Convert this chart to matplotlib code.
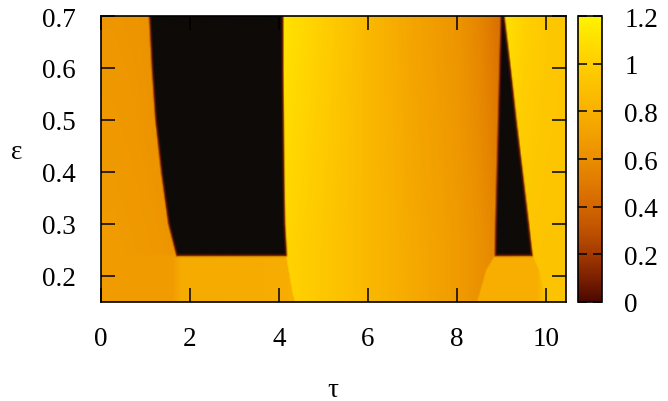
import numpy as np
import matplotlib.pyplot as plt
from matplotlib.colors import LinearSegmentedColormap, Normalize, to_rgb
from matplotlib.cm import ScalarMappable

plt.rcParams['font.family'] = ['Liberation Serif', 'DejaVu Serif']
plt.rcParams['font.size'] = 19.5

# palette of the colour box, value -> colour
cb_levels = [0.0, 0.1, 0.2, 0.3, 0.4, 0.5, 0.6, 0.7, 0.8, 0.9, 1.0, 1.1, 1.2]
cb_colors = ['#4a0800', '#7c2000', '#a23a00', '#bf5200', '#d26600', '#e07a00',
             '#ea8e00', '#f29f00', '#f8b000', '#fcc000', '#ffce00', '#ffe000', '#fff200']
cb_ticks = [0.0, 0.2, 0.4, 0.6, 0.8, 1.0, 1.2]
cb_ticklabels = ['0', '0.2', '0.4', '0.6', '0.8', '1', '1.2']
hole_color = '#0d0a08'
rim_color = '#641400'

x_ticks = [0, 2, 4, 6, 8, 10]
y_ticks = [0.2, 0.3, 0.4, 0.5, 0.6, 0.7]

# scan grid
tau_step, eps_step = 0.025, 0.0025
tau_lim = (0.0, 10.45)
eps_lim = (0.15, 0.70)

# black (unbounded) regions: tau edges at the given eps, floor at eps_floor
hole_eps = [0.24, 0.30, 0.40, 0.50, 0.60, 0.70]
hole1_left = [1.71, 1.53, 1.37, 1.24, 1.16, 1.10]
hole1_right = [4.16, 4.12, 4.10, 4.09, 4.08, 4.08]
hole2_left = [8.87, 8.88, 8.91, 8.94, 8.97, 9.00]
hole2_right = [9.68, 9.60, 9.46, 9.32, 9.19, 9.05]
eps_floor = 0.24
# width of the dark rim around the black regions (tau, eps)
rim_tau, rim_eps = 0.08, 0.007

# level along tau just above the floor (eps=0.25) and at the top (eps=0.7)
tau_a = [0.0, 0.3, 0.8, 1.2, 1.7]
a_mid = [0.68, 0.68, 0.67, 0.66, 0.64]
a_top = [0.65, 0.65, 0.64, 0.61, 0.58]

tau_b = [1.7, 4.1, 4.3, 5.0, 6.0, 7.0, 8.0, 8.5, 8.9]
b_mid = [0.77, 1.04, 1.02, 0.95, 0.85, 0.76, 0.68, 0.62, 0.56]
b_top = [0.77, 1.12, 1.09, 1.00, 0.85, 0.73, 0.64, 0.56, 0.46]

tau_c = [8.9, 9.1, 9.5, 10.0, 10.45]
c_mid = [0.96, 0.95, 0.94, 0.93, 0.93]
c_top = [1.12, 1.10, 1.02, 0.96, 0.94]

# low-eps band below the black regions
band_tau = [0.0, 4.16, 4.22, 4.30, 4.36, 8.45, 8.52, 8.65, 8.85,
            9.70, 9.85, 9.95, 10.02, 10.45]
band_eps = [0.24, 0.24, 0.21, 0.17, 0.15, 0.15, 0.17, 0.21, 0.24,
            0.24, 0.21, 0.17, 0.15, 0.15]
tau_low = [0.0, 1.6, 1.8, 4.1, 4.4, 8.4, 8.6, 9.8, 10.0, 10.45]
low_vals = [0.68, 0.68, 0.77, 0.78, 0.80, 0.79, 0.79, 0.79, 0.92, 0.92]
band_soft = 0.008

tau = np.arange(tau_lim[0], tau_lim[1] + 1e-9, tau_step)
eps = np.arange(eps_lim[0], eps_lim[1] + 1e-9, eps_step)
T, E = np.meshgrid(tau, eps)
Ec = np.clip(E, eps_floor, None)
w = np.clip((E - 0.25) / (0.70 - 0.25), 0, 1)


def profile(knots, mid, top):
    lo = np.interp(T, knots, mid)
    hi = np.interp(T, knots, top)
    return lo + w * (hi - lo)


l1 = np.interp(Ec, hole_eps, hole1_left)
r1 = np.interp(Ec, hole_eps, hole1_right)
l2 = np.interp(Ec, hole_eps, hole2_left)
r2 = np.interp(Ec, hole_eps, hole2_right)

Z = np.where(T < l1, profile(tau_a, a_mid, a_top),
             np.where(T < 0.5 * (l2 + r2), profile(tau_b, b_mid, b_top),
                      profile(tau_c, c_mid, c_top)))
band = np.clip((np.interp(T, band_tau, band_eps) - E) / band_soft + 0.5, 0, 1)
Z = Z * (1 - band) + np.interp(T, tau_low, low_vals) * band

# how far inside a black region each cell sits, in rim units
depth_tau = np.maximum(np.minimum(T - l1, r1 - T), np.minimum(T - l2, r2 - T)) / rim_tau
depth_eps = (E - eps_floor) / rim_eps
inside = np.clip(np.minimum(depth_tau, depth_eps) + 0.5, 0, 1)[..., None]

cmap = LinearSegmentedColormap.from_list(
    'heat', list(zip(np.array(cb_levels) / 1.2, cb_colors)))
norm = Normalize(vmin=0, vmax=1.2)
rgb = cmap(norm(Z))[..., :3]
# orange -> dark red rim -> black
to_rim = np.clip(2 * inside, 0, 1)
to_hole = np.clip(2 * inside - 1, 0, 1)
rgb = rgb * (1 - to_rim) + np.array(to_rgb(rim_color)) * to_rim
rgb = rgb * (1 - to_hole) + np.array(to_rgb(hole_color)) * to_hole

fig = plt.figure(figsize=(6.68, 4.02), dpi=100)
ax = fig.add_axes([101 / 668, 99 / 402, 465 / 668, 286 / 402])
ax.imshow(rgb, origin='lower', aspect='auto', interpolation='bilinear',
          extent=[tau[0] - tau_step / 2, tau[-1] + tau_step / 2,
                  eps[0] - eps_step / 2, eps[-1] + eps_step / 2])
ax.set_xlim(*tau_lim)
ax.set_ylim(*eps_lim)
ax.set_xticks(x_ticks)
ax.set_xticklabels([str(t) for t in x_ticks])
ax.set_yticks(y_ticks)
ax.set_yticklabels([f'{t:.1f}' for t in y_ticks])
ax.tick_params(direction='in', top=True, right=True, length=10, width=1.1)
ax.tick_params(axis='x', pad=17)
ax.tick_params(axis='y', pad=18)
for s in ax.spines.values():
    s.set_linewidth(1.2)

fig.text(17 / 668, 1 - 159 / 402, 'ε', ha='center', va='baseline')
fig.text(333 / 668, 1 - 397 / 402, 'τ', ha='center', va='baseline')

cax = fig.add_axes([578 / 668, 99 / 402, 24 / 668, 286 / 402])
cb = fig.colorbar(ScalarMappable(norm=norm, cmap=cmap), cax=cax, ticks=cb_ticks)
cb.ax.set_yticklabels(cb_ticklabels)
cax.tick_params(direction='in', left=True, right=True, length=6.5, width=1.1, pad=16)
cb.outline.set_linewidth(1.2)

fig.savefig('out.png', dpi=100)
